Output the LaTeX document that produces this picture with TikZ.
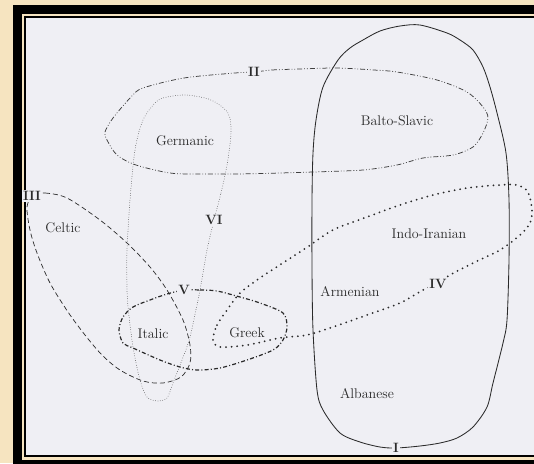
\documentclass[tikz,border=0pt]{standalone}
\usepackage{tikz}
\usetikzlibrary{calc}
\usepackage{xcolor}
\definecolor{parchment}{HTML}{F6E4C0}
\definecolor{paperbg}{HTML}{EFEFF4}
\definecolor{inkdark}{HTML}{2A2A2A}
\definecolor{inkgray}{HTML}{404040}

\begin{document}
\begin{tikzpicture}[
  x=1pt, y=-1pt,
  lang/.style={font=\fontsize{14}{16}\selectfont, text=inkdark, inner sep=0pt},
  grplabel/.style={font=\fontsize{13.5}{15}\selectfont\bfseries, text=inkdark,
                   fill=paperbg, inner sep=1pt},
  grpI/.style={draw=inkdark, line width=0.85pt},
  grpII/.style={draw=inkgray, line width=0.75pt,
                dash pattern=on 5pt off 2pt on 0.8pt off 2pt on 0.8pt off 2pt},
  grpIII/.style={draw=inkdark, line width=0.7pt, dash pattern=on 5pt off 3pt},
  grpIV/.style={draw=inkdark, line width=2pt, line cap=round,
                dash pattern=on 0pt off 5.6pt},
  grpV/.style={draw=inkdark, line width=1.2pt,
               dash pattern=on 4pt off 2.2pt on 1pt off 2.2pt},
  grpVI/.style={draw=inkgray, line width=0.75pt, line cap=round,
                dash pattern=on 0pt off 2.4pt}
]
\useasboundingbox (0,0) rectangle (534,463);
\clip (0,0) rectangle (534,463);

% ---------------- Frame ----------------
\fill[parchment] (0,0) rectangle (534,463);
\fill[black] (13,5) rectangle (560,480);
\fill[parchment] (22,14) rectangle (560,459.5);
\fill[black] (23.5,15.5) rectangle (560,457);
\fill[paperbg] (25.5,17.5) rectangle (560,455);

% ---------------- Isoglosses ----------------
% I
\draw[grpI] plot[smooth cycle] coordinates {
  (396,448) (420,446) (440,443) (457,438) (473,427) (487,407) (493,383)
  (503,343) (507,320) (509,260) (509,200) (506,153) (497,113) (490,87)
  (483,67) (473,50) (460,40) (447,33) (420,25) (400,26) (380,31) (363,40)
  (350,48) (338,60) (323,87) (316,120) (313,153) (312,200) (312,270)
  (313,330) (317,390) (323,410) (340,433) (360,442) (380,447)};
% II
\draw[grpII] plot[smooth cycle] coordinates {
  (254,72) (272,70) (300,69) (337,68) (374,70) (397,72) (437,80) (467,92)
  (483,107) (488,118) (483,133) (473,147) (453,155) (423,158) (397,165)
  (363,170) (313,172) (280,173) (238,174) (200,174) (170,173) (136,165)
  (117,155) (107,140) (105,132) (113,118) (131,97) (143,88) (184,78)
  (235,73)};
% III
\draw[grpIII] plot[smooth cycle] coordinates {
  (33,195) (45,193) (67,198) (100,220) (127,243) (150,267) (167,290)
  (183,320) (190,345) (190,363) (181,377) (163,383) (143,381) (120,370)
  (102,355) (85,335) (68,312) (50,283) (37,253) (30,230) (27,207)};
% IV
\draw[grpIV] plot[smooth cycle] coordinates {
  (213,340) (217,325) (227,310) (240,293) (257,280) (272,270) (306,248)
  (333,230) (367,217) (400,205) (433,195) (467,188) (500,185) (517,185)
  (528,192) (532,210) (530,223) (520,235) (500,250) (473,263) (450,275)
  (438,283) (423,290) (400,303) (367,315) (333,327) (307,335) (280,338)
  (247,345) (220,347)};
% V
\draw[grpV] plot[smooth cycle] coordinates {
  (184,290) (200,290) (217,291) (240,297) (260,303) (283,313) (287,327)
  (283,340) (273,350) (247,360) (220,368) (197,370) (180,367) (160,360)
  (133,348) (123,343) (119,330) (123,317) (133,307) (150,300) (167,294)};
% VI
\draw[grpVI] plot[smooth cycle] coordinates {
  (214,220) (221,193) (227,165) (231,133) (228,113) (211,100) (187,95)
  (167,97) (156,102) (143,120) (135,150) (130,200) (127,250) (127,290)
  (128,307) (133,347) (140,380) (147,397) (157,401) (167,398) (173,383)
  (182,360) (190,337) (200,290) (207,250)};

% ---------------- Languages ----------------
\node[lang] (germanic) at (185,141) {Germanic};
\node[lang] (balto)    at (397,121) {Balto-Slavic};
\node[lang] (celtic)   at (63,228)  {Celtic};
\node[lang] (indo)     at (429,234) {Indo-Iranian};
\node[lang] (armenian) at (350,292) {Armenian};
\node[lang] (italic)   at (153,334) {Italic};
\node[lang] (greek)    at (247,333) {Greek};
\node[lang] (albanese) at (367,394) {Albanese};

% ---------------- Group numerals ----------------
\node[grplabel] (nI)   at (396,448) {I};
\node[grplabel] (nII)  at (254,72)  {II};
\node[grplabel] (nIII) at (32,196)  {III};
\node[grplabel] (nIV)  at (438,284) {IV};
\node[grplabel] (nV)   at (184,290) {V};
\node[grplabel] (nVI)  at (214,220) {VI};

\end{tikzpicture}
\end{document}
